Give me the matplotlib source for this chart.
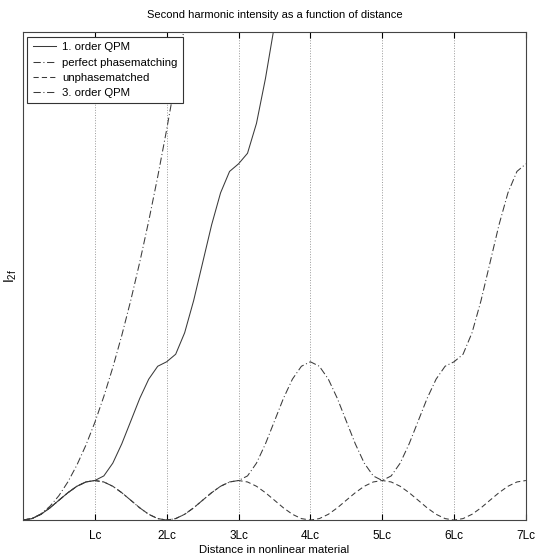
import numpy as np
import matplotlib
matplotlib.use('Agg')
import matplotlib.pyplot as plt

plt.rcParams['font.family'] = ['Liberation Sans', 'DejaVu Sans']
plt.rcParams['mathtext.default'] = 'regular'

# distance in units of the coherence length Lc, sampled every Lc/8
distance = np.arange(0, 7.001, 0.125)

# values
qpm1 = [0, .015, .059, .125, .203, .280, .346, .390,
        .405, .452, .583, .781, 1.013, 1.246, 1.443, 1.575,
        1.621, 1.698, 1.918, 2.247, 2.634, 3.022, 3.351, 3.570,
        3.648, 3.756, 4.063, 4.523, 5.066, 5.609]

perfect = [0, .016, .063, .141, .250, .391, .563, .766,
           1.000, 1.266, 1.563, 1.891, 2.250, 2.641, 3.063, 3.516,
           4.000, 4.516, 5.063, 5.641]

unphase = [0, .015, .059, .125, .203, .280, .346, .390,
           .405, .390, .346, .280, .203, .125, .059, .015,
           0, .015, .059, .125, .203, .280, .346, .390,
           .405, .390, .346, .280, .203, .125, .059, .015,
           0, .015, .059, .125, .203, .280, .346, .390,
           .405, .390, .346, .280, .203, .125, .059, .015,
           0, .015, .059, .125, .203, .280, .346, .390,
           .405]

qpm3 = [0, .015, .059, .125, .203, .280, .346, .390,
        .405, .390, .346, .280, .203, .125, .059, .015,
        0, .015, .059, .125, .203, .280, .346, .390,
        .405, .452, .583, .781, 1.013, 1.246, 1.443, 1.575,
        1.621, 1.575, 1.443, 1.246, 1.013, .781, .583, .452,
        .405, .452, .583, .781, 1.013, 1.246, 1.443, 1.575,
        1.621, 1.698, 1.918, 2.247, 2.634, 3.022, 3.351, 3.570,
        3.648]

tick_pos = [1, 2, 3, 4, 5, 6, 7]
tick_lab = ['Lc', '2Lc', '3Lc', '4Lc', '5Lc', '6Lc', '7Lc']

fig = plt.figure(figsize=(5.35, 5.58), dpi=100)
ax = fig.add_axes([0.043, 0.068, 0.940, 0.875])

col = '#3a3a3a'
lw = 0.75
ax.plot(distance[:len(qpm1)], qpm1, color=col, lw=lw, label='1. order QPM')
ax.plot(distance[:len(perfect)], perfect, color=col, lw=lw,
        dashes=(7, 2.5, 1, 2.5), label='perfect phasematching')
ax.plot(distance, unphase, color=col, lw=lw, dashes=(5, 3), label='unphasematched')
ax.plot(distance, qpm3, color=col, lw=lw, dashes=(7, 2.5, 1, 2.5), label='3. order QPM')

ax.set_xlim(0, 7)
ax.set_ylim(0, 5)
ax.set_xticks(tick_pos)
ax.set_xticklabels(tick_lab, fontsize=8.5)
ax.set_yticks([])
ax.tick_params(axis='x', direction='in', length=4, top=True, pad=7)
ax.grid(axis='x', color='#999999', linestyle=':', linewidth=0.7)
for s in ax.spines.values():
    s.set_color('#444444')
    s.set_linewidth(0.8)

ax.set_title('Second harmonic intensity as a function of distance', fontsize=8, pad=10)
ax.set_xlabel('Distance in nonlinear material', fontsize=8.2, labelpad=2)
ax.set_ylabel('I$_{2f}$', fontsize=10, labelpad=3)

leg = ax.legend(loc='upper left', bbox_to_anchor=(0.008, 0.99), fontsize=8.2,
                fancybox=False, framealpha=1, edgecolor='#333333',
                handlelength=2.0, handletextpad=0.6, labelspacing=0.45,
                borderpad=0.5, borderaxespad=0)
leg.get_frame().set_linewidth(0.8)

fig.savefig('out.png', dpi=100)
